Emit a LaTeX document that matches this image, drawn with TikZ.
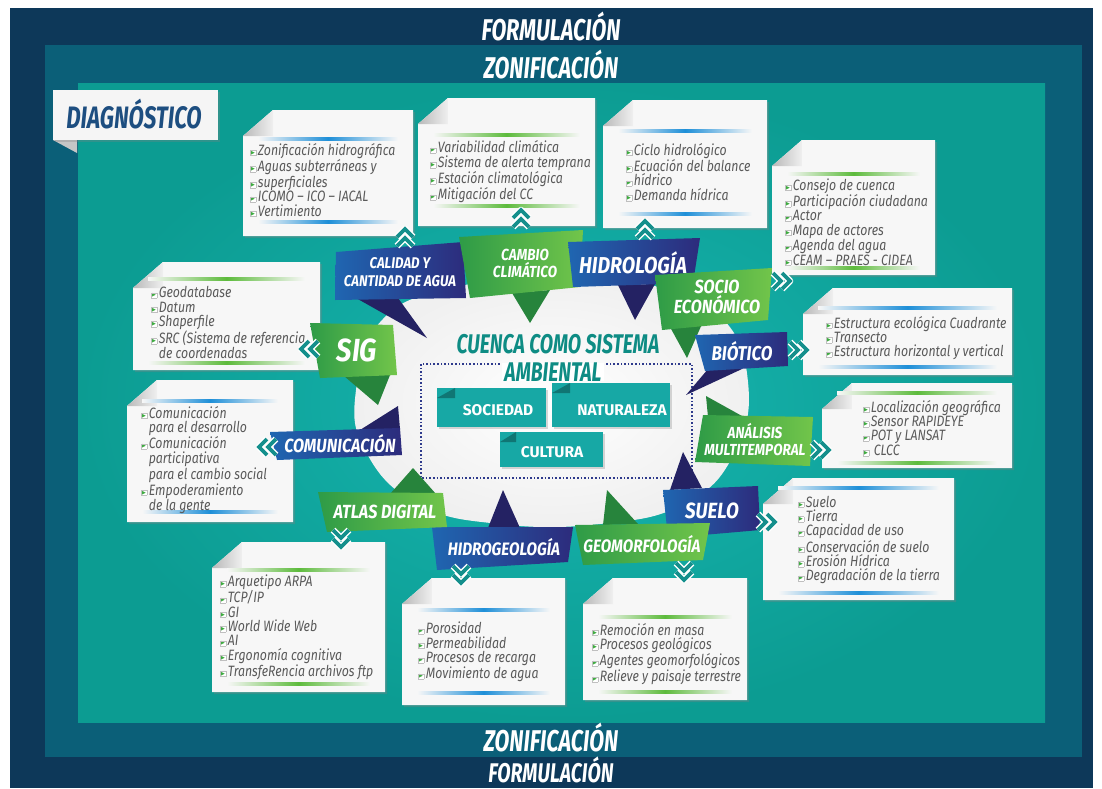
\documentclass[tikz,border=0pt]{standalone}
\usepackage{fontspec}
\usepackage{tikz}
\usetikzlibrary{shadows}
\setmainfont{Fira Sans}
\newfontfamily\titulo[FakeStretch=0.72]{Fira Sans}
\newfontfamily\cintafont[FakeStretch=0.85]{Fira Sans}
\newfontfamily\lista[FakeStretch=0.82]{Fira Sans}
\newfontfamily\simbolo{DejaVu Sans}

\definecolor{azulfondo}{HTML}{0D3859}
\definecolor{azulzona}{HTML}{0B5F78}
\definecolor{verdeagua}{HTML}{0C9C92}
\definecolor{verdeaguaclaro}{HTML}{17B6B1}
\definecolor{azulcinta}{HTML}{1F66B1}
\definecolor{moradocinta}{HTML}{2D2B7C}
\definecolor{verdecinta}{HTML}{72C54A}
\definecolor{verdeoscuro}{HTML}{2E9B47}
\definecolor{tituloverde}{HTML}{0E8C84}
\definecolor{grisletra}{HTML}{5A5A5A}
\definecolor{cajaverde}{HTML}{17A8A5}
\definecolor{puntos}{HTML}{2E3A8C}
\definecolor{diagazul}{HTML}{1D4E80}
\definecolor{azullinea}{HTML}{1E8FD8}
\definecolor{verdelinea}{HTML}{5DBB3C}
\definecolor{vineta}{HTML}{3DAA3F}

\tikzset{
  hoja/.style={fill=gray!6, drop shadow={shadow xshift=2pt,shadow yshift=-2pt,opacity=.35}},
  doblez/.style={left color=gray!55, right color=gray!12},
  cintaazul/.style={left color=azulcinta, right color=moradocinta},
  cintaverde/.style={left color=verdeoscuro, right color=verdecinta},
  colaazul/.style={fill=moradocinta!80!black},
  colaverde/.style={fill=verdeoscuro!85!black},
  rotulo/.style={text=white, font=\cintafont\bfseries\itshape\fontsize{#1}{#1}\selectfont, align=center, inner sep=0pt},
  encabezado/.style={text=white, font=\titulo\bfseries\itshape\fontsize{#1}{#1}\selectfont, inner sep=0pt},
  encabezado/.default=30,
  items/.style={text=grisletra, font=\lista\itshape\fontsize{15}{14.4}\selectfont, align=left, anchor=west, inner sep=0pt},
  caja/.style={fill=cajaverde, drop shadow={shadow xshift=1.5pt,shadow yshift=-1.5pt,opacity=.3}},
  cajatexto/.style={text=white, font=\bfseries\fontsize{15.5}{15.5}\selectfont, inner sep=0pt},
  flecha/.pic={
    \draw[white, line width=6.5pt, line join=round] (-8,-8) -- (0,0) -- (-8,8) (1,-8) -- (9,0) -- (1,8);
    \draw[cajaverde!85!black, line width=3.6pt] (-8,-8) -- (0,0) -- (-8,8) (1,-8) -- (9,0) -- (1,8);
  },
}

% hoja con esquina doblada: x1, y1, x2, y2, linea arriba, linea abajo, color
\newcommand{\nota}[7]{
  \fill[hoja] ({#1+30},#2) -- (#3,#2) -- (#3,#4) -- (#1,#4) -- (#1,{#2+26}) -- cycle;
  \shade[doblez] (#1,{#2+26}) -- ({#1+30},#2) -- ({#1+30},{#2+26}) -- cycle;
  \shade[left color=gray!6, right color=gray!6, middle color=#7] ({#1+15},{#5-1.3}) rectangle ({#3-15},{#5+1.3});
  \shade[left color=gray!6, right color=gray!6, middle color=#7] ({#1+15},{#6-1.3}) rectangle ({#3-15},{#6+1.3});
}
\newcommand{\vin}{{\setlength{\fboxsep}{0.6pt}\setlength{\fboxrule}{0.3pt}\raisebox{1pt}{\fcolorbox{gray!50}{white}{\simbolo\fontsize{5}{5}\selectfont\textcolor{vineta}{▶}}}}\hspace{2pt}}
\newcommand{\sinv}{\phantom{\vin}}

\begin{document}
\begin{tikzpicture}[x=1pt, y=-1pt]
    \useasboundingbox (0,0) rectangle (1102,788);
    \fill[white] (0,0) rectangle (1102,788);
    % marcos
    \fill[azulfondo] (10,8) rectangle (1093,788);
    \fill[azulzona] (45,45) rectangle (1082,757);
    \shade[inner color=verdeaguaclaro, outer color=verdeagua] (78,83) rectangle (1045,722);
    \node[encabezado] (formarriba) at (551,27) {FORMULACIÓN};
    \node[encabezado] (zonarriba) at (551,64) {ZONIFICACIÓN};
    \node[encabezado] (zonabajo) at (551,737) {ZONIFICACIÓN};
    \node[encabezado=27] (formabajo) at (551,770) {FORMULACIÓN};

    % etiqueta diagnostico
    \fill[gray!45] (53,140) -- (77,140) -- (77,153) -- cycle;
    \fill[gray!8, drop shadow={shadow xshift=2pt,shadow yshift=-2pt,opacity=.3}] (53,90) rectangle (218,140);
    \node[text=diagazul, font=\titulo\bfseries\itshape\fontsize{31}{31}\selectfont] (diagnostico) at (134,114) {DIAGNÓSTICO};

    % centro
    \shade[inner color=white, outer color=gray!12] plot[smooth cycle, tension=0.75] coordinates {
      (550,278) (650,285) (720,316) (748,382) (734,454) (684,504) (600,524) (500,524)
      (418,504) (366,452) (356,390) (382,320) (452,288)};
    \draw[puntos, line width=1.6pt, dotted] (421,364) rectangle (692,478);
    \node[text=tituloverde, font=\titulo\bfseries\itshape\fontsize{27}{27}\selectfont, fill=white, inner xsep=2pt, inner ysep=0pt] (ambiental) at (553,372) {AMBIENTAL};
    \node[text=tituloverde, font=\titulo\bfseries\itshape\fontsize{27}{27}\selectfont, inner sep=0pt] (cuenca) at (558,344) {CUENCA COMO SISTEMA};
    \fill[caja] (437,388) rectangle (546,427);
    \fill[cajaverde!70!black] (437,398) -- (455,388) -- (455,398) -- cycle;
    \node[cajatexto] (sociedad) at (498,410) {SOCIEDAD};
    \fill[caja] (552,383) rectangle (670,427);
    \fill[cajaverde!70!black] (552,393) -- (570,383) -- (570,393) -- cycle;
    \node[cajatexto] (naturaleza) at (622,410) {NATURALEZA};
    \fill[caja] (500,432) rectangle (603,467);
    \fill[cajaverde!70!black] (500,442) -- (516,432) -- (516,442) -- cycle;
    \node[cajatexto] (cultura) at (552,452) {CULTURA};

    % hojas
    \nota{243}{110}{413}{236}{139}{222}{azullinea}
    \node[items] (lcalidad) at (250,180) {\vin Zonificación hidrográfica\\\vin Aguas subterráneas y\\\vin superficiales\\\vin ICOMO – ICO – IACAL\\\vin Vertimiento};
    \nota{418}{98}{595}{226}{135}{206}{verdelinea}
    \node[items] (lcambio) at (430,172) {\vin Variabilidad climática\\\vin Sistema de alerta temprana\\\vin Estación climatológica\\\vin Mitigación del CC};
    \nota{603}{100}{767}{228}{131}{214}{azullinea}
    \node[items] (lhidrologia) at (626,172) {\vin Ciclo hidrológico\\\vin Ecuación del balance\\\vin hídrico\\\vin Demanda hídrica};
    \nota{772}{140}{935}{275}{174}{268}{verdelinea}
    \node[items] (lsocio) at (785,222) {\vin Consejo de cuenca\\\vin Participación ciudadana\\\vin Actor\\\vin Mapa de actores\\\vin Agenda del agua\\\vin CEAM – PRAES - CIDEA};
    \nota{803}{288}{1012}{375}{308}{367}{azullinea}
    \node[items] (lbiotico) at (826,338) {\vin Estructura ecológica Cuadrante\\\vin Transecto\\\vin Estructura horizontal y vertical};
    \nota{822}{383}{1012}{468}{393}{463}{verdelinea}
    \node[items] (lanalisis) at (863,428) {\vin Localización geográfica\\\vin Sensor RAPIDEYE\\\vin POT y LANSAT\\\vin \hspace{3pt}CLCC};
    \nota{763}{478}{954}{600}{488}{593}{azullinea}
    \node[items] (lsuelo) at (798,540) {\vin Suelo\\\vin Tierra\\\vin Capacidad de uso\\\vin Conservación de suelo\\\vin Erosión Hídrica\\\vin Degradación de la tierra};
    \nota{583}{578}{747}{700}{617}{692}{verdelinea}
    \node[items] (lgeomorfologia) at (592,654) {\vin Remoción en masa\\\vin Procesos geológicos\\\vin Agentes geomorfológicos\\\vin Relieve y paisaje terrestre};
    \nota{402}{578}{565}{705}{610}{693}{azullinea}
    \node[items] (lhidrogeologia) at (418,652) {\vin Porosidad\\\vin Permeabilidad\\\vin Procesos de recarga\\\vin Movimiento de agua};
    \nota{212}{542}{385}{692}{570}{684}{verdelinea}
    \node[items] (latlas) at (220,627) {\vin Arquetipo ARPA\\\vin TCP/IP\\\vin GI\\\vin World Wide Web\\\vin AI\\\vin Ergonomía cognitiva\\\vin TransfeRencia archivos ftp};
    \nota{127}{380}{293}{522}{401}{512}{azullinea}
    \node[items] (lcomunicacion) at (141,460) {\vin Comunicación\\\sinv para el desarrollo\\\vin Comunicación\\\sinv participativa\\\sinv para el cambio social\\\vin Empoderamiento\\\sinv de la gente};
    \nota{133}{262}{320}{370}{279}{363}{verdelinea}
    \node[items] (lsig) at (151,323) {\vin Geodatabase\\\vin Datum\\\vin Shaperfile\\\vin SRC (Sistema de referencia\\\sinv de coordenadas};

    % cintas
    \fill[colaazul] (356,298) -- (398,298) -- (427,338) -- cycle;
    \shade[cintaazul] (336,252) -- (463,242) -- (466,298) -- (335,300) -- cycle;
    \node[rotulo=15.5] (calidad) at (400,272) {CALIDAD Y\\[2pt]CANTIDAD DE AGUA};

    \fill[colaverde] (512,293) -- (550,290) -- (530,323) -- cycle;
    \shade[cintaverde] (459,237) -- (583,230) -- (580,287) -- (470,298) -- cycle;
    \node[rotulo=16] (cambio) at (525,263) {CAMBIO\\[1pt]CLIMÁTICO};

    \fill[colaazul] (618,285) -- (655,284) -- (635,320) -- cycle;
    \shade[cintaazul] (568,242) -- (700,238) -- (693,283) -- (573,287) -- cycle;
    \node[rotulo=23] (hidrologia) at (633,263) {HIDROLOGÍA};

    \fill[colaverde] (670,327) -- (702,324) -- (687,358) -- cycle;
    \shade[cintaverde] (655,275) -- (772,268) -- (768,320) -- (662,330) -- cycle;
    \node[rotulo=19] (socio) at (717,297) {SOCIO\\[1pt]ECONÓMICO};

    \fill[colaazul] (708,369) -- (742,369) -- (686,395) -- cycle;
    \shade[cintaazul] (695,335) -- (787,332) -- (788,366) -- (705,371) -- cycle;
    \node[rotulo=20] (biotico) at (742,351) {BIÓTICO};

    \fill[colaverde] (708,417) -- (742,416) -- (706,396) -- cycle;
    \shade[cintaverde] (703,415) -- (813,417) -- (810,466) -- (695,462) -- cycle;
    \node[rotulo=16] (analisis) at (755,440) {ANÁLISIS\\[1pt]MULTITEMPORAL};

    \fill[colaazul] (670,490) -- (702,488) -- (683,452) -- cycle;
    \shade[cintaazul] (663,490) -- (758,486) -- (760,530) -- (668,538) -- cycle;
    \node[rotulo=22] (suelo) at (712,511) {SUELO};

    \fill[colaverde] (603,525) -- (638,524) -- (607,490) -- cycle;
    \shade[cintaverde] (575,525) -- (710,523) -- (703,560) -- (583,565) -- cycle;
    \node[rotulo=18] (geomorfologia) at (642,544) {GEOMORFOLOGÍA};

    \fill[colaazul] (488,528) -- (520,528) -- (503,490) -- cycle;
    \shade[cintaazul] (432,527) -- (573,527) -- (568,562) -- (437,570) -- cycle;
    \node[rotulo=18] (hidrogeologia) at (504,547) {HIDROGEOLOGÍA};

    \fill[colaverde] (390,494) -- (436,494) -- (413,468) -- cycle;
    \shade[cintaverde] (318,492) -- (443,493) -- (447,527) -- (327,532) -- cycle;
    \node[rotulo=19] (atlas) at (385,512) {ATLAS DIGITAL};

    \fill[colaazul] (360,430) -- (400,429) -- (398,406) -- cycle;
    \shade[cintaazul] (270,432) -- (400,428) -- (402,455) -- (277,460) -- cycle;
    \node[rotulo=19] (comunicacion) at (340,444) {COMUNICACIÓN};

    \fill[colaverde] (344,376) -- (390,375) -- (378,405) -- cycle;
    \shade[cintaverde] (310,323) -- (393,325) -- (397,375) -- (320,378) -- cycle;
    \node[rotulo=32] (sig) at (357,350) {SIG};

    % flechas dobles
    \pic[rotate=90] (fcalidad) at (405,238) {flecha};
    \pic[rotate=90] (fcambio) at (521,219) {flecha};
    \pic[rotate=90] (fhidrologia) at (645,230) {flecha};
    \pic (fsocio) at (781,281) {flecha};
    \pic (fbiotico) at (798,350) {flecha};
    \pic (fanalisis) at (820,450) {flecha};
    \pic (fsuelo) at (766,522) {flecha};
    \pic[rotate=-90] (fatlas) at (341,538) {flecha};
    \pic[rotate=-90] (fhidrogeologia) at (461,574) {flecha};
    \pic[rotate=-90] (fgeomorfologia) at (684,571) {flecha};
    \pic[rotate=180] (fsig) at (310,349) {flecha};
    \pic[rotate=180] (fcomunicacion) at (268,447) {flecha};
\end{tikzpicture}
\end{document}
